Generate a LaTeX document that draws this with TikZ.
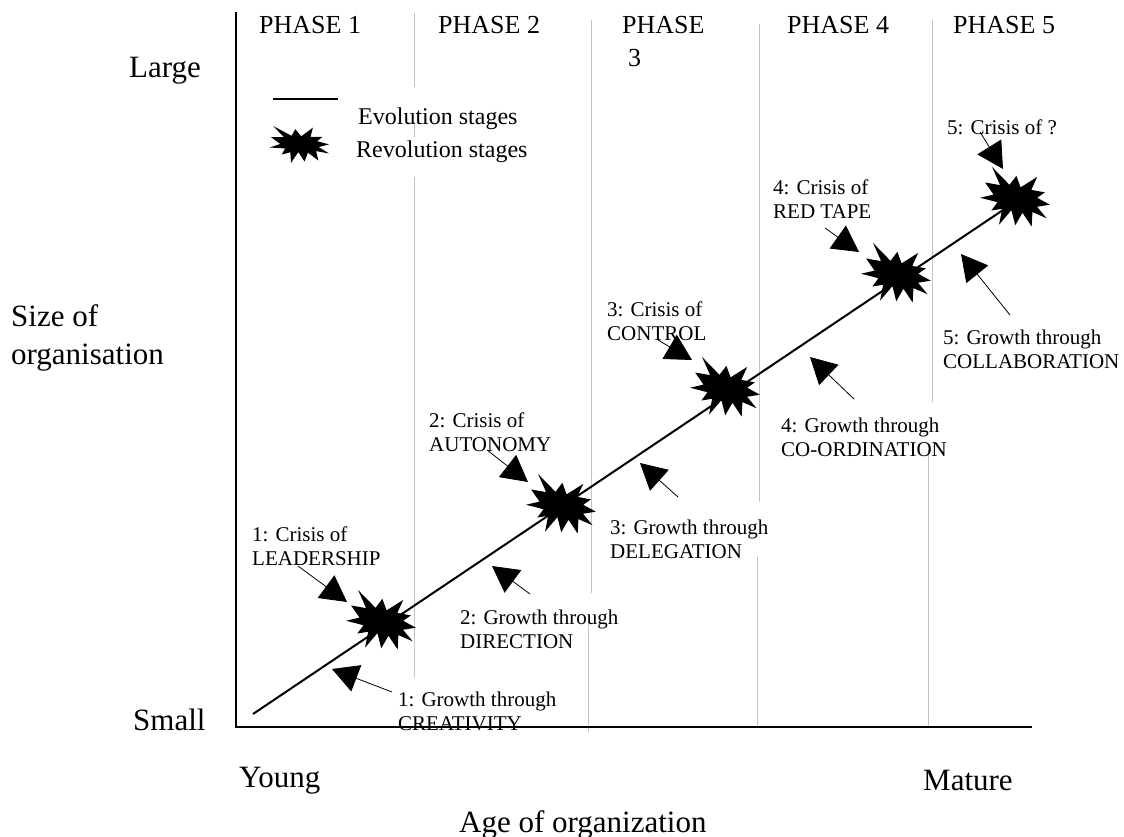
\documentclass[tikz,border=0pt]{standalone}
\usepackage{fontspec}
\setmainfont{Liberation Serif}
\usetikzlibrary{arrows.meta}
\definecolor{phasegray}{HTML}{C4C4C4}
\newcommand\lblfont{\fontsize{21}{24}\selectfont}
\newcommand\phfont{\fontsize{26}{33}\selectfont}
\newcommand\axfont{\fontsize{31}{38}\selectfont}
\newcommand\lgfont{\fontsize{24}{28}\selectfont}
\tikzset{
  burst/.pic={\fill[black] (0,-0.2315) -- (0.1723,-0.5) -- (0.1553,-0.2535) -- (0.3509,-0.2937) -- (0.2732,-0.1613) -- (0.4767,-0.1233) -- (0.3151,-0.0150) -- (0.5,0.1153) -- (0.2795,0.0992) -- (0.3400,0.3377) -- (0.1491,0.1693) -- (0.1133,0.4138) -- (-0.0124,0.1914) -- (-0.1072,0.5) -- (-0.1428,0.2235) -- (-0.2795,0.3156) -- (-0.2376,0.1452) -- (-0.4938,0.1753) -- (-0.3277,0.0451) -- (-0.5,-0.1012) -- (-0.2858,-0.1474) -- (-0.4829,-0.3937) -- (-0.1615,-0.2074) -- (-0.1133,-0.3937) -- cycle;},
  phaseline/.style={phasegray, line width=1pt},
  axisline/.style={black, line width=2.6pt},
  evoline/.style={black, line width=2pt},
  pointer/.style={black, line width=0.8pt, -{Triangle[length=26pt,width=28pt]}},
  lbl/.style={anchor=north west, inner sep=0pt, font=\lblfont, align=left},
  phaselbl/.style={anchor=north west, inner sep=0pt, font=\phfont, align=left},
  axlbl/.style={anchor=base west, inner sep=0pt, font=\axfont, align=left},
  lgnd/.style={anchor=north west, inner sep=0pt, font=\lgfont},
  bigburst/.style={rotate=-20, xscale=70, yscale=58},
}
\begin{document}
\begin{tikzpicture}[x=1pt, y=-1pt]
\useasboundingbox (0,0) rectangle (1124,837);
\fill[white] (0,0) rectangle (1124,837);

% phase separators
\draw[phaseline] (414,13) -- (414,87);
\draw[phaseline] (414,122) -- (414,137);
\draw[phaseline] (414,177) -- (414,678);
\draw[phaseline] (591,20) -- (591,593);
\draw[phaseline] (588,622) -- (588,732);
\draw[phaseline] (759,24) -- (759,502);
\draw[phaseline] (757,556) -- (757,727);
\draw[phaseline] (932,20) -- (932,402);
\draw[phaseline] (928,450) -- (928,727);

% phase labels
\node[phaselbl] (ph1) at (259,16.5) {PHASE 1};
\node[phaselbl] (ph2) at (438,16.5) {PHASE 2};
\node[phaselbl] (ph3) at (622,16.5) {PHASE\\\hspace*{6pt}3};
\node[phaselbl] (ph4) at (787,16.5) {PHASE 4};
\node[phaselbl] (ph5) at (953,16.5) {PHASE 5};

% axis labels
\node[axlbl] (large) at (129,78) {Large};
\node[anchor=north west, inner sep=0pt, font=\axfont, align=left] (size) at (11,304) {Size of\\organisation};
\node[axlbl] (small) at (133,730) {Small};
\node[axlbl] (young) at (239,787) {Young};
\node[axlbl] (mature) at (923,790) {Mature};
\node[axlbl] (age) at (459,832) {Age of organization};

% legend
\coordinate (lgA) at (273,99);
\coordinate (lgB) at (338,99);
\draw[evoline] (lgA) -- (lgB);
\pic[rotate=-8, xscale=60, yscale=38] at (300,145) {burst};
\node[lgnd] (evo) at (358,107.5) {Evolution stages};
\node[lgnd] (rev) at (356,141) {Revolution stages};

% stage labels
\node[lbl] (c1) at (252,527) {1: Crisis of\\LEADERSHIP};
\node[lbl] (c2) at (429,413) {2: Crisis of\\AUTONOMY};
\node[lbl] (c3) at (607,302) {3: Crisis of\\CONTROL};
\node[lbl] (c4) at (773,180) {4: Crisis of\\RED TAPE};
\node[lbl] (c5) at (947,120) {5: Crisis of ?};
\node[lbl] (g1) at (398,692) {1: Growth through\\CREATIVITY};
\node[lbl] (g2) at (460,610) {2: Growth through\\DIRECTION};
\node[lbl] (g3) at (610,520) {3: Growth through\\DELEGATION};
\node[lbl] (g4) at (781,418) {4: Growth through\\CO-ORDINATION};
\node[lbl] (g5) at (943,330) {5: Growth through\\COLLABORATION};

% evolution line and revolution stars
\coordinate (start) at (253,714);
\coordinate (s1) at (383,626.6);
\coordinate (s2) at (563,505.7);
\coordinate (s3) at (725,396.8);
\coordinate (s4) at (897,281.2);
\coordinate (s5) at (1017,200.6);
\draw[evoline] (start) -- (s1) -- (s2) -- (s3) -- (s4) -- (s5);
\pic[bigburst] at (382,623) {burst};
\pic[bigburst] at (562,507) {burst};
\pic[bigburst] at (726,390) {burst};
\pic[bigburst] at (897,276) {burst};
\pic[bigburst] at (1016,200) {burst};

% pointers
\coordinate (c1t) at (298,566);   \coordinate (c1h) at (347,602);
\coordinate (c2t) at (487,450);   \coordinate (c2h) at (528,482);
\coordinate (c3t) at (658,340);   \coordinate (c3h) at (692,360);
\coordinate (c4t) at (825,228);   \coordinate (c4h) at (859,252);
\coordinate (c5t) at (980,132);   \coordinate (c5h) at (1003,169);
\coordinate (g1t) at (392,692);   \coordinate (g1h) at (332,669);
\coordinate (g2t) at (530,594);   \coordinate (g2h) at (492,566);
\coordinate (g3t) at (678,497);   \coordinate (g3h) at (640,463);
\coordinate (g4t) at (854,399);   \coordinate (g4h) at (810,357);
\coordinate (g5t) at (1010,315);  \coordinate (g5h) at (961,254);
\foreach \p in {c1,c2,c3,c4,c5,g1,g2,g3,g4,g5}{
  \draw[pointer] (\p t) -- (\p h);
}

% axes
\coordinate (ytop) at (236,12);
\coordinate (origin) at (236,727);
\coordinate (xend) at (1032,727);
\draw[axisline] (ytop) -- (origin) -- (xend);
\end{tikzpicture}
\end{document}
